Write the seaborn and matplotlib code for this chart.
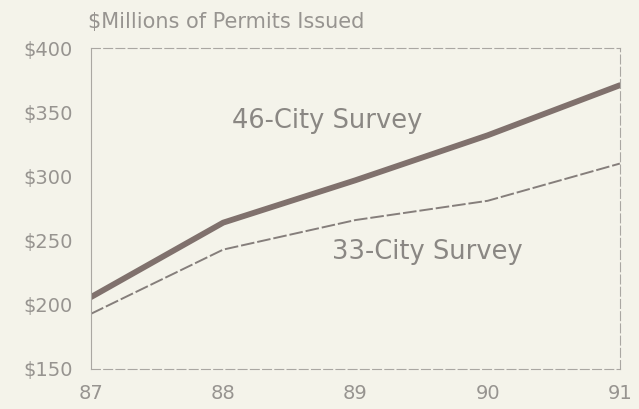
import pandas as pd
import numpy as np
import seaborn as sns
import matplotlib.pyplot as plt

# DATA
years = [87, 88, 89, 90, 91]
survey_46 = [206, 264, 297, 332, 371]
survey_33 = [193, 243, 266, 281, 310]
y_ticks = [150, 200, 250, 300, 350, 400]

df = pd.DataFrame({"year": years, "46-City Survey": survey_46, "33-City Survey": survey_33})

sns.set_style("white")
plt.rcParams['font.family'] = ['DejaVu Sans']

bg = "#f4f3ea"
txt = "#979490"
spine_c = "#aaa7a2"

fig = plt.figure(figsize=(6.39, 4.09), dpi=100, facecolor=bg)
ax = fig.add_axes([0.1424, 0.0978, 0.8276, 0.7848], facecolor=bg)

sns.lineplot(data=df, x="year", y="46-City Survey", ax=ax, color="#80716d", linewidth=4.2)
sns.lineplot(data=df, x="year", y="33-City Survey", ax=ax, color="#857e7b", linewidth=1.4,
             linestyle=(0, (7, 1.5)))

ax.set_xlim(87, 91)
ax.set_ylim(150, 400)
ax.set_xticks(years)
ax.set_xticklabels([str(y) for y in years])
ax.set_yticks(y_ticks)
ax.set_yticklabels(["$%d" % v for v in y_ticks])
ax.set_xlabel("")
ax.set_ylabel("")

for side in ["left", "right", "top", "bottom"]:
    ax.spines[side].set_color(spine_c)
    ax.spines[side].set_linewidth(0.8)
ax.spines["top"].set_linestyle((0, (8, 3)))
ax.spines["bottom"].set_linestyle((0, (8, 3)))
ax.spines["right"].set_linestyle((0, (8, 3)))

ax.tick_params(axis="y", direction="inout", length=8, width=0.8, color=spine_c,
               labelsize=14, labelcolor=txt, pad=9)
ax.tick_params(axis="x", direction="in", length=4, width=0.8, color=spine_c,
               labelsize=14, labelcolor=txt, pad=11)

ax.text(88.07, 343, "46-City Survey", fontsize=18.5, color="#8a8783", va="center")
ax.text(88.82, 241, "33-City Survey", fontsize=18.5, color="#8a8783", va="center")

fig.text(0.138, 0.945, "$Millions of Permits Issued", fontsize=15, color=txt, va="center")

plt.savefig("out.png", dpi=100, facecolor=bg)
